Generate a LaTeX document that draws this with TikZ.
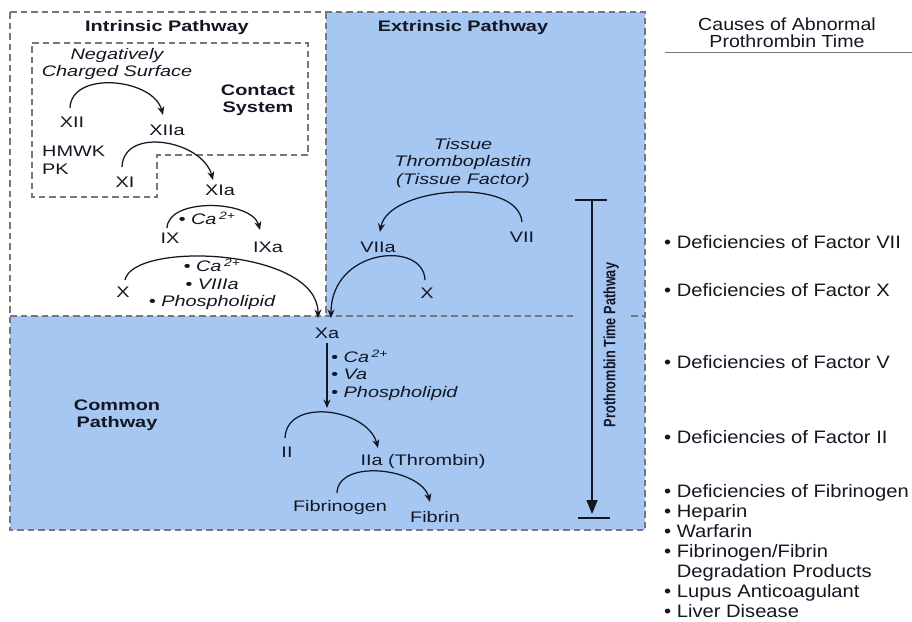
\documentclass[tikz,border=0pt]{standalone}
\usepackage{fontspec}
\usepackage{graphicx}
\setmainfont{Liberation Sans}
\newfontfamily\dfont[FakeStretch=1.3]{Liberation Sans}
\newfontfamily\rfont[FakeStretch=1.12]{Liberation Sans}
\usetikzlibrary{arrows.meta,calc}
\definecolor{pblue}{RGB}{166,199,242}
\definecolor{ink}{RGB}{20,22,34}
\definecolor{dgray}{RGB}{120,120,124}
\begin{document}
\begin{tikzpicture}[x=1pt,y=1pt,
  every node/.style={inner sep=1pt, text=ink},
  lbl/.style={font=\dfont\fontsize{15.3}{17.5}\selectfont},
  hdr/.style={font=\dfont\bfseries\fontsize{15.3}{17}\selectfont, align=center},
  cof/.style={font=\dfont\itshape\fontsize{15.3}{17.5}\selectfont},
  cause/.style={font=\rfont\fontsize{18}{20}\selectfont, anchor=west, align=left},
  arr/.style={draw=ink, line width=1.25pt, -{Stealth[length=8.5pt,width=7pt]}},
  dashbox/.style={draw=dgray, line width=1.2pt, dash pattern=on 6.5pt off 4pt},
]
\useasboundingbox (0,0) rectangle (912,-621);
\fill[white] (0,0) rectangle (912,-621);

% blue regions
\fill[pblue] (326,-12) -- (645,-12) -- (645,-530) -- (10,-530) -- (10,-316) -- (326,-316) -- cycle;
% dashed outlines
\draw[dashbox] (10,-12) rectangle (645,-530);
\draw[dashbox] (10,-316) -- (575,-316);
\draw[dashbox] (631,-316) -- (645,-316);
\draw[dashbox] (326,-12) -- (326,-316);
\draw[dashbox] (32,-43) -- (308,-43) -- (308,-155) -- (157,-155) -- (157,-197) -- (32,-197) -- cycle;

% headings
\node[hdr] (intr) at (167,-28) {Intrinsic Pathway};
\node[hdr] (extr) at (463,-28) {Extrinsic Pathway};
\node[hdr] (contact) at (258,-100) {Contact\\System};
\node[hdr] (common) at (117,-415) {Common\\Pathway};

% intrinsic
\node[cof, align=center] (neg) at (117,-64) {Negatively\\Charged Surface};
\node[lbl] (XII) at (72,-122) {XII};
\node[lbl] (XIIa) at (167,-130) {XIIa};
\node[lbl, anchor=west, align=left] (hmwk) at (41,-160) {HMWK\\PK};
\node[lbl] (XI) at (125,-182) {XI};
\node[lbl] (XIa) at (220,-190) {XIa};
\node[cof] (ca1) at (207,-218) {• Ca\,\textsuperscript{2+}};
\node[lbl] (IX) at (170,-238) {IX};
\node[lbl] (IXa) at (268,-247) {IXa};
\node[cof, align=center] (cofa) at (212,-284.5) {• Ca\,\textsuperscript{2+}\\• VIIIa\\• Phospholipid};
\node[lbl] (X) at (123,-292) {X};
\node[lbl] (Xa) at (327,-333) {Xa};

% extrinsic
\node[cof, align=center] (tissue) at (463,-163) {Tissue\\Thromboplastin\\(Tissue Factor)};
\node[lbl] (VII) at (522,-237) {VII};
\node[lbl] (VIIa) at (378,-247) {VIIa};
\node[lbl] (Xe) at (427,-293) {X};

% common
\node[cof, anchor=west, align=left] (cofb) at (330,-375) {• Ca\,\textsuperscript{2+}\\• Va\\• Phospholipid};
\node[lbl] (II) at (287,-452) {II};
\node[lbl] (IIa) at (423,-462) {IIa (Thrombin)};
\node[lbl] (fgn) at (340,-508) {Fibrinogen};
\node[lbl] (fbn) at (435,-517) {Fibrin};
\coordinate (xaend) at (327,-408);

% connectors
\draw[arr] ($(XII)+(-2,14)$) to[out=88,in=105,distance=38] ($(XIIa)+(-4,15)$);
\draw[arr] ($(XI)+(-3,15)$) to[out=88,in=105,distance=41] ($(XIa)+(-7,10)$);
\draw[arr] ($(IX)+(-3,10)$) to[out=88,in=105,distance=31] ($(IXa)+(-8,17)$);
\draw[arr] ($(X)+(2,12)$) to[out=78,in=90,out distance=40,in distance=70] ($(Xa)+(-9,15)$);
\draw[arr] ($(VII)+(0,15)$) to[out=95,in=80,distance=46] ($(VIIa)+(2,15)$);
\draw[arr] ($(Xe)+(-2,13)$) to[out=92,in=90,out distance=40,in distance=70] ($(Xa)+(4,15)$);
\draw[arr] ($(Xa)+(0,-10)$) -- (xaend);
\draw[arr] ($(II)+(-2,14)$) to[out=88,in=105,distance=41] ($(IIa)+(-45,14)$);
\draw[arr] ($(fgn)+(-3,15)$) to[out=88,in=105,distance=35] ($(fbn)+(-5,15)$);

% prothrombin time bar
\coordinate (ptt) at (592,-200);
\coordinate (ptb) at (592,-514);
\coordinate (ptl1) at (575,-200);
\coordinate (ptr1) at (607,-200);
\coordinate (ptl2) at (578,-518);
\coordinate (ptr2) at (610,-518);
\draw[ink, line width=1.8pt] (ptl1) -- (ptr1);
\draw[ink, line width=1.8pt] (ptl2) -- (ptr2);
\draw[ink, line width=1.4pt, -{Triangle[length=14pt,width=11pt]}] (ptt) -- (ptb);
\node[rotate=90, font=\bfseries\fontsize{12.7}{14}\selectfont] (ptlab) at (611,-345) {\scalebox{1}[1.3]{Prothrombin Time Pathway}};

% right column
\node[font=\rfont\fontsize{17.5}{17}\selectfont, align=center] (causes) at (787,-33) {Causes of Abnormal\\Prothrombin Time};
\coordinate (rl) at (665,-52);
\coordinate (rr) at (912,-52);
\draw[dgray, line width=0.9pt] (rl) -- (rr);
\node[cause] (c1) at (663,-242) {• Deficiencies of Factor VII};
\node[cause] (c2) at (663,-290) {• Deficiencies of Factor X};
\node[cause] (c3) at (663,-362) {• Deficiencies of Factor V};
\node[cause] (c4) at (663,-437) {• Deficiencies of Factor II};
\node[cause] (c5) at (663,-551) {• Deficiencies of Fibrinogen\\• Heparin\\• Warfarin\\• Fibrinogen/Fibrin\\\phantom{• }Degradation Products\\• Lupus Anticoagulant\\• Liver Disease};
\end{tikzpicture}
\end{document}
